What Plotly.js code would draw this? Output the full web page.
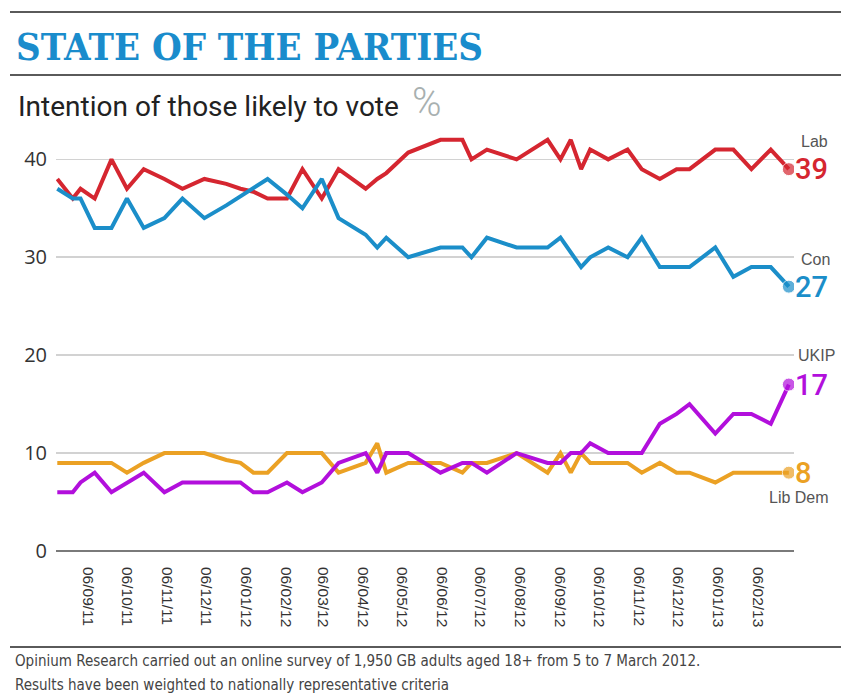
<!DOCTYPE html>
<html>
<head>
<meta charset="utf-8">
<script src="https://cdn.plot.ly/plotly-3.0.1.min.js"></script>
<style>html,body{margin:0;padding:0;background:#fff;}#chart{width:841px;height:696px;}</style>
</head>
<body>
<div id="chart"></div>
<script>
const pollDates = ['2011-08-13','2011-08-25','2011-08-31','2011-09-11','2011-09-24','2011-10-06','2011-10-19','2011-11-04','2011-11-18','2011-12-05',
  '2011-12-22','2012-01-02','2012-01-12','2012-01-23','2012-02-07','2012-02-19','2012-03-05','2012-03-18','2012-04-08','2012-04-17',
  '2012-04-24','2012-05-11','2012-06-05','2012-06-22','2012-06-29','2012-07-11','2012-08-03','2012-08-27','2012-09-06','2012-09-14',
  '2012-09-22','2012-09-29','2012-10-13','2012-10-28','2012-11-08','2012-11-22','2012-12-05','2012-12-15','2013-01-04','2013-01-18',
  '2013-02-01','2013-02-16','2013-03-02'];
const lab = [38,36,37,36,40,37,39,38,37,38, 37.5,37,36.7,36,36,39,36,39,37,38, 38.6,40.7,42,42,40,41,40,42,40,42, 39,41,40,41,39,38,39,39,41,41, 39,41,39];
const con = [37,36,36,33,33,36,33,34,36,34, 35.3,36.2,37.1,38,36.4,35,38,34,32.3,31, 32,30,31,31,30,32,31,31,32,30.5, 29,30,31,30,32,29,29,29,31,28, 29,29,27];
const libdem = [9,9,9,9,9,8,9,10,10,10, 9.3,9,8,8,10,10,10,8,9,11, 8,9,9,8,9,9,10,8,10,8, 10,9,9,9,8,9,8,8,7,8, 8,8,8];
const ukip = [6,6,7,8,6,7,8,6,7,7, 7,7,6,6,7,6,7,9,10,8, 10,10,8,9,9,8,10,9,9,10, 10,11,10,10,10,13,14,15,12,14, 14,13,17];
const tickDates = ['2011-09-06','2011-10-06','2011-11-06','2011-12-06','2012-01-06','2012-02-06','2012-03-06','2012-04-06','2012-05-06',
  '2012-06-06','2012-07-06','2012-08-06','2012-09-06','2012-10-06','2012-11-06','2012-12-06','2013-01-06','2013-02-06'];
const tickLabels = ['06/09/11','06/10/11','06/11/11','06/12/11','06/01/12','06/02/12','06/03/12','06/04/12','06/05/12',
  '06/06/12','06/07/12','06/08/12','06/09/12','06/10/12','06/11/12','06/12/12','06/01/13','06/02/13'];
const yTicks = [0,10,20,30,40];

const COL = {lab:'#d52630', con:'#1b8ec9', ukip:'#b20fdc', ld:'#eba124'};
const W = 841, H = 696, M = {l:56, r:47, t:130, b:145};
const pw = W - M.l - M.r, ph = H - M.t - M.b;
const px2x = px => (px - M.l) / pw;
const py2y = py => (H - M.b - py) / ph;

function line(y, c, name) {
  const n = y.length;
  return {
    x: pollDates, y: y, type: 'scatter', mode: 'lines+markers', name: name,
    line: {color: c, width: 4, shape: 'linear'},
    marker: {color: c, size: y.map((v, i) => i === n - 1 ? 13 : 0)},
    hoverinfo: 'x+y'
  };
}
const traces = [line(libdem, COL.ld, 'Lib Dem'), line(ukip, COL.ukip, 'UKIP'), line(lab, COL.lab, 'Lab'), line(con, COL.con, 'Con')];

const last = a => a[a.length - 1];
const lastDate = last(pollDates);
const nameFont = {family: 'Liberation Sans, Arial, sans-serif', size: 16, color: '#555'};
const numFont = c => ({family: 'Roboto, Liberation Sans, sans-serif', size: 29, color: c, weight: 500});
function endLabel(series, c, name, nx, ny) {
  return [
    {x: lastDate, y: last(series), xref: 'x', yref: 'y', text: name, showarrow: false, xanchor: 'left', yanchor: 'middle', xshift: nx, yshift: ny, font: nameFont, borderpad: 0},
    {x: lastDate, y: last(series), xref: 'x', yref: 'y', text: String(last(series)), showarrow: false, xanchor: 'left', yanchor: 'middle', xshift: 5, yshift: 0, font: numFont(c), borderpad: 0}
  ];
}

const annotations = [
  ...endLabel(lab, COL.lab, 'Lab', 11, 28),
  ...endLabel(con, COL.con, 'Con', 11, 27),
  ...endLabel(ukip, COL.ukip, 'UKIP', 8, 29),
  ...endLabel(libdem, COL.ld, 'Lib Dem', -21, -25),
  {xref: 'paper', yref: 'paper', x: px2x(16), y: py2y(106), xanchor: 'left', yanchor: 'middle', showarrow: false,
   text: 'Intention of those likely to vote', font: {family: 'Roboto, Liberation Sans, sans-serif', size: 28, color: '#222'}},
  {xref: 'paper', yref: 'paper', x: px2x(410), y: py2y(102), xanchor: 'left', yanchor: 'middle', showarrow: false,
   text: '%', font: {family: 'Roboto, Liberation Sans, sans-serif', size: 40, color: '#a8b0b0', weight: 300}},
  {xref: 'paper', yref: 'paper', x: px2x(13), y: py2y(661), xanchor: 'left', yanchor: 'middle', showarrow: false, align: 'left',
   text: 'Opinium Research carried out an online survey of 1,950 GB adults aged 18+ from 5 to 7 March 2012.',
   font: {family: 'DejaVu Sans Condensed, DejaVu Sans, sans-serif', size: 15, color: '#444'}},
  {xref: 'paper', yref: 'paper', x: px2x(13), y: py2y(685), xanchor: 'left', yanchor: 'middle', showarrow: false, align: 'left',
   text: 'Results have been weighted to nationally representative criteria',
   font: {family: 'DejaVu Sans Condensed, DejaVu Sans, sans-serif', size: 15, color: '#444'}}
];

const rule = (py, x0) => ({type: 'line', xref: 'paper', yref: 'paper', x0: px2x(x0), x1: px2x(845), y0: py2y(py), y1: py2y(py), line: {color: '#5a5a5a', width: 2}});

const layout = {
  width: W, height: H, margin: M, paper_bgcolor: '#fff', plot_bgcolor: '#fff', showlegend: false,
  title: {text: 'STATE OF THE PARTIES', xref: 'container', yref: 'container', x: 16 / W, xanchor: 'left', y: 1 - 47 / H, yanchor: 'middle',
          font: {family: 'DejaVu Serif Condensed, DejaVu Serif, serif', size: 38, color: '#1a8ccc', weight: 'bold'}},
  xaxis: {type: 'date', range: ['2011-08-12', '2013-03-06'], tickvals: tickDates, ticktext: tickLabels, tickangle: 90,
          showgrid: false, zeroline: false, showline: false, ticks: '', ticklabelstandoff: 15,
          tickfont: {family: 'Liberation Sans, Arial, sans-serif', size: 15.5, color: '#333'}},
  yaxis: {range: [0, 43], tickvals: yTicks, ticktext: yTicks.map(String), showgrid: true, gridcolor: '#d2d2d2', gridwidth: 1.6,
          zeroline: true, zerolinecolor: '#7a7a7a', zerolinewidth: 2, showline: false, ticks: '', ticklabelstandoff: 8,
          tickfont: {family: 'Open Sans, Liberation Sans, sans-serif', size: 20, color: '#333'}},
  shapes: [rule(12, 10), rule(75, 10), rule(647, 10)],
  annotations: annotations
};

Plotly.newPlot('chart', traces, layout, {staticPlot: true, displayModeBar: false});
</script>
</body>
</html>
